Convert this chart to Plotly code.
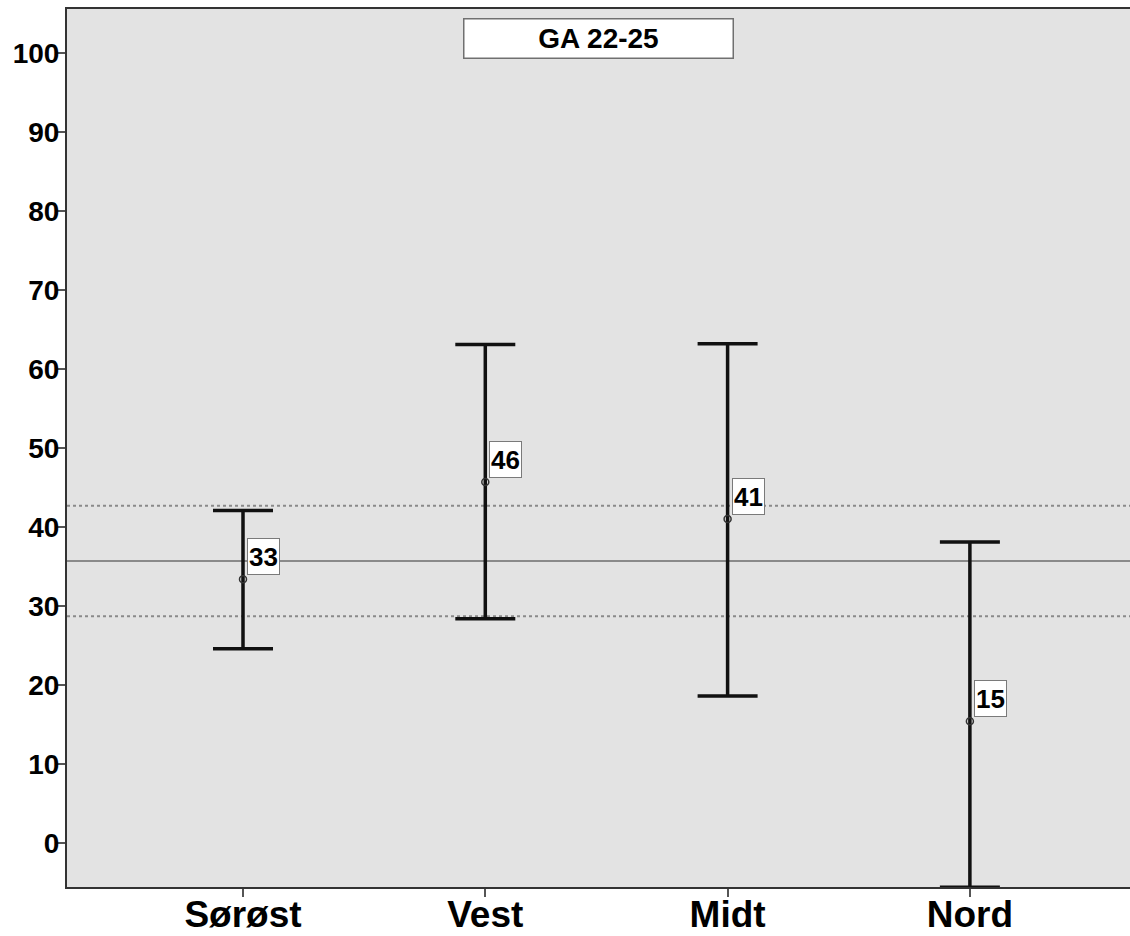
import plotly.graph_objects as go

# Regions and their estimates (mean with lower/upper interval limits)
regions = ["Sørøst", "Vest", "Midt", "Nord"]
means = [33.4, 45.7, 41.0, 15.4]
lower = [24.6, 28.4, 18.6, -5.6]
upper = [42.1, 63.1, 63.2, 38.1]
value_labels = ["33", "46", "41", "15"]

# Overall reference level and its interval
ref_mean = 35.7
ref_lower = 28.7
ref_upper = 42.7

title_text = "GA 22-25"
y_ticks = [0, 10, 20, 30, 40, 50, 60, 70, 80, 90, 100]

err_plus = [u - m for u, m in zip(upper, means)]
err_minus = [m - l for m, l in zip(means, lower)]

FONT = "Arial, Liberation Sans"

fig = go.Figure()

fig.add_trace(go.Scatter(
    x=regions,
    y=means,
    mode="markers",
    marker=dict(symbol="circle-open", size=7, color="#333333", line=dict(width=1.5)),
    error_y=dict(
        type="data",
        symmetric=False,
        array=err_plus,
        arrayminus=err_minus,
        color="#111111",
        thickness=3.5,
        width=30,
    ),
    cliponaxis=False,
    showlegend=False,
    hoverinfo="skip",
))

# Reference lines across the plot
fig.add_shape(type="line", xref="paper", x0=0, x1=1, yref="y", y0=ref_mean, y1=ref_mean,
              line=dict(color="#8a8a8a", width=2), layer="below")
for v in (ref_lower, ref_upper):
    fig.add_shape(type="line", xref="paper", x0=0, x1=1, yref="y", y0=v, y1=v,
                  line=dict(color="#8a8a8a", width=2, dash="dot"), layer="below")

# Value labels next to each mean
for r, m, t in zip(regions, means, value_labels):
    fig.add_annotation(
        x=r, y=m, xref="x", yref="y",
        text=f"<b>{t}</b>",
        showarrow=False,
        xanchor="left", yanchor="bottom",
        xshift=4, yshift=4,
        font=dict(family=FONT, size=26, color="#000000"),
        bgcolor="#ffffff",
        bordercolor="#7a7a7a",
        borderwidth=1,
        borderpad=0,
        width=31, height=35,
    )

# Title box
fig.add_annotation(
    x=0.5, y=1, xref="paper", yref="paper",
    xanchor="center", yanchor="top", yshift=-9,
    text=f"<b>{title_text}</b>",
    showarrow=False,
    font=dict(family=FONT, size=28, color="#000000"),
    bgcolor="#ffffff",
    bordercolor="#707070",
    borderwidth=1.5,
    borderpad=0,
    width=268, height=38,
)

fig.update_layout(
    width=1130,
    height=936,
    margin=dict(l=67, r=0, t=9, b=49),
    paper_bgcolor="#ffffff",
    plot_bgcolor="#e3e3e3",
    font=dict(family=FONT, color="#000000"),
    showlegend=False,
)

fig.update_xaxes(
    type="category",
    range=[-0.7264, 3.6608],
    automargin=False,
    showgrid=False,
    zeroline=False,
    showline=True,
    linecolor="#333333",
    linewidth=2,
    mirror=True,
    ticks="outside",
    ticklen=8,
    tickwidth=1.5,
    tickcolor="#555555",
    ticklabelstandoff=-14,
    tickfont=dict(family=FONT, size=37, color="#000000", weight="bold"),
)

fig.update_yaxes(
    range=[-5.57, 105.57],
    automargin=False,
    tickvals=y_ticks,
    ticktext=[str(v) for v in y_ticks],
    showgrid=False,
    zeroline=False,
    showline=True,
    linecolor="#333333",
    linewidth=2,
    mirror=False,
    ticks="outside",
    ticklen=9,
    tickwidth=1.5,
    tickcolor="#555555",
    ticklabelstandoff=-9,
    tickfont=dict(family=FONT, size=28, color="#000000", weight="bold"),
)

fig.write_html("out.html")
